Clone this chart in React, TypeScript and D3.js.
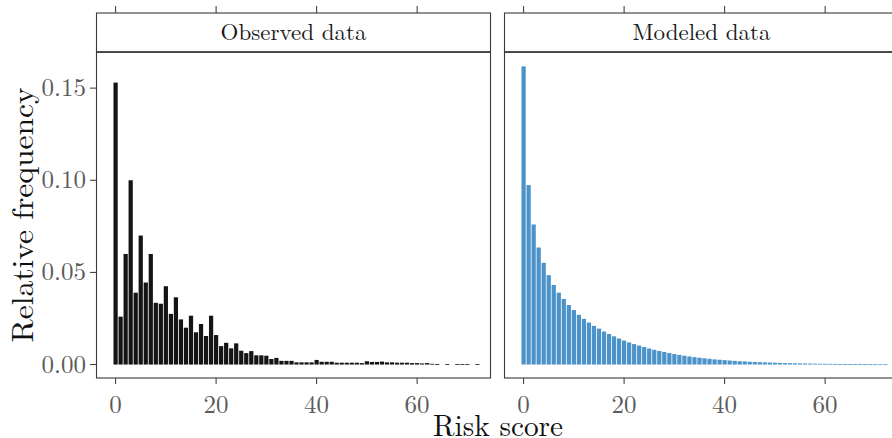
import React from "react";
import * as d3 from "d3";

const observed: number[] = [
  0.153, 0.026, 0.06, 0.1, 0.039, 0.07, 0.0445, 0.06, 0.0335, 0.033,
  0.0425, 0.0275, 0.0365, 0.0245, 0.02, 0.0265, 0.0175, 0.022, 0.0155, 0.0265,
  0.016, 0.01, 0.0118, 0.0088, 0.0115, 0.0075, 0.0062, 0.0073, 0.005, 0.005,
  0.0048, 0.003, 0.0036, 0.002, 0.002, 0.002, 0.0012, 0.0012, 0.0012, 0.0012,
  0.0025, 0.0015, 0.0015, 0.0015, 0.001, 0.001, 0.001, 0.001, 0.001, 0.0008,
  0.0018, 0.0014, 0.0014, 0.0016, 0.0012, 0.0012, 0.001, 0.001, 0.001, 0.0008,
  0.0008, 0.0006, 0.0008, 0.0004, 0.0003, 0, 0.0003, 0, 0.0003, 0.0003,
  0.0003, 0, 0.0003,
];

const modeled: number[] = [
  0.1618, 0.0974, 0.076, 0.0635, 0.0552, 0.0485, 0.0432, 0.039, 0.0356, 0.0323,
  0.0296, 0.027, 0.0248, 0.0228, 0.021, 0.0195, 0.0179, 0.0166, 0.0153, 0.0141,
  0.013, 0.012, 0.0111, 0.0103, 0.0095, 0.0087, 0.008, 0.0074, 0.0068, 0.0062,
  0.0057, 0.0052, 0.0048, 0.0044, 0.004, 0.0037, 0.0034, 0.0031, 0.0028, 0.0026,
  0.0024, 0.0022, 0.002, 0.0018, 0.0017, 0.0015, 0.0014, 0.0013, 0.0012, 0.0011,
  0.001, 0.0009, 0.0008, 0.00075, 0.0007, 0.00065, 0.0006, 0.00055, 0.0005, 0.00045,
  0.0004, 0.00037, 0.00034, 0.0003, 0.00028, 0.00025, 0.00023, 0.0002, 0.00018, 0.00016,
  0.00015, 0.00013, 0.00012,
];

const panelTitles = ["Observed data", "Modeled data"];
const xTicks = [0, 20, 40, 60];
const yTicks = [0, 0.05, 0.1, 0.15];
const xTitle = "Risk score";
const yTitle = "Relative frequency";

const W = 892;
const H = 438;
const panelW = 395;
const panelLefts = [96, 504];
const stripTop = 13;
const stripBottom = 52;
const panelBottom = 378;
const FONT = "'Latin Modern Roman', 'Liberation Serif', 'DejaVu Serif', serif";
const colors = ["#141414", "#4b93c9"];

export default function App() {
  const y = d3.scaleLinear().domain([-0.0073, 0.1696]).range([panelBottom, stripBottom]);
  const series = [observed, modeled];
  return (
    <svg
      width={W}
      height={H}
      style={{ position: "absolute", left: 0, top: 0, background: "#fff" }}
      fontFamily={FONT}
    >
      <rect x={0} y={0} width={W} height={H} fill="#fff" />
      {series.map((vals, p) => {
        const left = panelLefts[p];
        const x = d3.scaleLinear().domain([-3.9, 74.7]).range([left, left + panelW]);
        const bw = (x(1) - x(0)) * 0.84;
        return (
          <g key={p}>
            {vals.map((v, i) =>
              v > 0 ? (
                <rect
                  key={i}
                  x={x(i) - bw / 2}
                  y={y(v)}
                  width={bw}
                  height={Math.max(0.8, y(0) - y(v))}
                  fill={colors[p]}
                />
              ) : null
            )}
            <rect
              x={left + 0.5}
              y={stripBottom}
              width={panelW - 1}
              height={panelBottom - stripBottom}
              fill="none"
              stroke="#3a3a3a"
              strokeWidth={1.1}
            />
            <rect
              x={left + 0.5}
              y={stripTop}
              width={panelW - 1}
              height={stripBottom - stripTop}
              fill="#fff"
              stroke="#3a3a3a"
              strokeWidth={1.1}
            />
            <line x1={left} x2={left + panelW} y1={stripBottom} y2={stripBottom} stroke="#3a3a3a" strokeWidth={1.6} />
            <text x={left + panelW / 2} y={39.5} textAnchor="middle" fontSize={23} fill="#1a1a1a">
              {panelTitles[p]}
            </text>
            {xTicks.map((t) => (
              <g key={t}>
                <line x1={x(t)} x2={x(t)} y1={panelBottom} y2={panelBottom + 6} stroke="#333" strokeWidth={1} />
                <line x1={x(t)} x2={x(t)} y1={stripTop - 7} y2={stripTop} stroke="#333" strokeWidth={1} />
                <text x={x(t)} y={413} textAnchor="middle" fontSize={25} fill="#5a5a5a">
                  {t}
                </text>
              </g>
            ))}
          </g>
        );
      })}
      {yTicks.map((t) => (
        <g key={t}>
          <line x1={panelLefts[0] - 6} x2={panelLefts[0]} y1={y(t)} y2={y(t)} stroke="#333" strokeWidth={1} />
          <text x={86} y={y(t) + 8} textAnchor="end" fontSize={25} fill="#5a5a5a">
            {t.toFixed(2)}
          </text>
        </g>
      ))}
      <text
        x={498}
        y={436}
        textAnchor="middle"
        fontSize={30}
        fill="#111"
        textLength={130}
        lengthAdjust="spacingAndGlyphs"
      >
        {xTitle}
      </text>
      <text
        transform={`translate(33, ${(stripBottom + panelBottom) / 2}) rotate(-90)`}
        textAnchor="middle"
        fontSize={30}
        fill="#111"
        textLength={255}
        lengthAdjust="spacingAndGlyphs"
      >
        {yTitle}
      </text>
    </svg>
  );
}
